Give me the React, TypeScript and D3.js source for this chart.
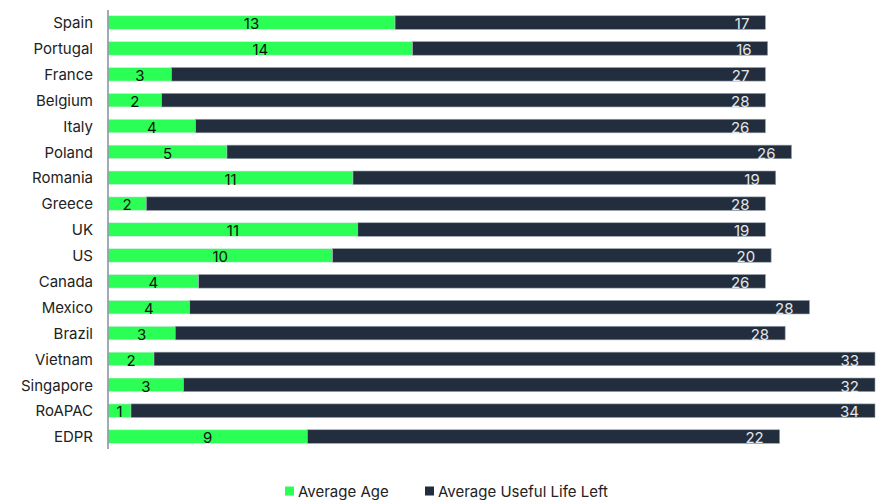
import React from "react";
import * as d3 from "d3";

// Fleet age by market, in years
const categories = [
  "Spain", "Portugal", "France", "Belgium", "Italy", "Poland", "Romania", "Greece",
  "UK", "US", "Canada", "Mexico", "Brazil", "Vietnam", "Singapore", "RoAPAC", "EDPR",
];
const averageAge = [
  13.1, 13.9, 2.9, 2.45, 4.0, 5.43, 11.18, 1.75,
  11.4, 10.25, 4.14, 3.73, 3.07, 2.1, 3.45, 1.05, 9.1,
];
const usefulLifeLeft = [
  16.9, 16.2, 27.1, 27.55, 26.0, 25.76, 19.29, 28.25,
  18.6, 20.01, 25.86, 28.28, 27.83, 32.9, 31.55, 33.95, 21.55,
];
const seriesNames = ["Average Age", "Average Useful Life Left"];
const seriesColors = ["#2bff55", "#222e3d"];

const W = 877;
const H = 500;
const FONT = "Inter, 'Noto Sans', sans-serif";
const FS = 15;

export default function App() {
  const x = d3.scaleLinear().domain([0, 35]).range([108, 875]);
  const y = d3
    .scaleBand<string>()
    .domain(categories)
    .range([9.6, 449.5])
    .paddingInner(0.475)
    .paddingOuter(0.2375);
  const bw = y.bandwidth();
  const fmt = d3.format(".0f");

  const rows = categories.map((c, i) => ({
    c,
    age: averageAge[i],
    left: usefulLifeLeft[i],
  }));

  return (
    <svg
      width={W}
      height={H}
      style={{ position: "absolute", left: 0, top: 0, fontFamily: FONT }}
    >
      <rect width={W} height={H} fill="#ffffff" />
      {rows.map((r) => {
        const y0 = y(r.c)!;
        const cy = y0 + bw / 2;
        const xa = x(r.age);
        const xe = x(r.age + r.left);
        return (
          <g key={r.c}>
            <text
              x={93}
              y={cy}
              dy="0.38em"
              textAnchor="end"
              fontSize={FS}
              fill="#222222"
            >
              {r.c}
            </text>
            <rect
              x={x(0)}
              y={y0}
              width={xa - x(0)}
              height={bw}
              fill={seriesColors[0]}
              stroke="#e3e8ec"
              strokeWidth={0.6}
            />
            <rect
              x={xa}
              y={y0}
              width={xe - xa}
              height={bw}
              fill={seriesColors[1]}
              stroke="#9aa4ae"
              strokeWidth={0.6}
            />
            <text
              x={(x(0) + xa) / 2}
              y={cy}
              dy="0.45em"
              textAnchor="middle"
              fontSize={FS}
              fill="#111111"
            >
              {fmt(r.age)}
            </text>
            <text
              x={xe - 16}
              y={cy}
              dy="0.45em"
              textAnchor="end"
              fontSize={FS}
              fill="#e4e7ea"
            >
              {fmt(r.left)}
            </text>
          </g>
        );
      })}
      <line x1={108} x2={108} y1={10} y2={449} stroke="#8a97a3" strokeWidth={1.6} />
      <g>
        {seriesNames.map((n, i) => {
          const lx = [285, 425][i];
          return (
            <g key={n}>
              <rect x={lx} y={486.5} width={9} height={9} fill={seriesColors[i]} />
              <text x={lx + 13} y={491} dy="0.38em" fontSize={FS} fill="#222222">
                {n}
              </text>
            </g>
          );
        })}
      </g>
    </svg>
  );
}
